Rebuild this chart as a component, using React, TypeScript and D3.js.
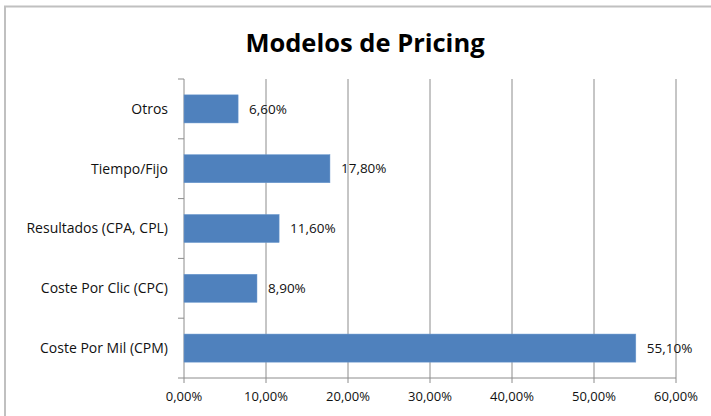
import React from 'react';
import * as d3 from 'd3';

const categories = ['Otros', 'Tiempo/Fijo', 'Resultados (CPA, CPL)', 'Coste Por Clic (CPC)', 'Coste Por Mil (CPM)'];
const values = [6.6, 17.8, 11.6, 8.9, 55.1];
const ticks = [0, 10, 20, 30, 40, 50, 60];
const title = 'Modelos de Pricing';

const width = 711;
const height = 416;
const margin = { top: 79, right: 35, bottom: 38, left: 184 };

const fmt = (v: number) => v.toFixed(2).replace('.', ',') + '%';

const App: React.FC = () => {
  const x = d3.scaleLinear().domain([0, 60]).range([margin.left, width - margin.right]);
  const y = d3.scaleBand<string>()
    .domain(categories)
    .range([margin.top, height - margin.bottom])
    .paddingInner(0.53)
    .paddingOuter(0.265);
  const step = y.step();
  const bottom = height - margin.bottom;
  const font = 'Open Sans, sans-serif';
  const axisColor = '#8c8c8c';

  return (
    <svg width={width} height={height} style={{ position: 'absolute', left: 0, top: 0 }}>
      <rect x={0} y={0} width={width} height={height} fill="#fff" />
      <rect x={5} y={6.5} width={width + 10} height={height + 10} fill="none" stroke="#c0c0c0" strokeWidth={2} />
      <text x={365} y={52} textAnchor="middle" fontFamily={font} fontWeight="bold" fontSize={25.5} fill="#000">
        {title}
      </text>
      {ticks.filter(t => t > 0).map(t => (
        <line key={'g' + t} x1={x(t)} x2={x(t)} y1={margin.top} y2={bottom} stroke={axisColor} />
      ))}
      {ticks.map(t => (
        <g key={'t' + t}>
          <line x1={x(t)} x2={x(t)} y1={bottom} y2={bottom + 5} stroke={axisColor} />
          <text x={x(t)} y={401} textAnchor="middle" fontFamily={font} fontSize={13} fill="#111">{fmt(t)}</text>
        </g>
      ))}
      <line x1={margin.left} x2={width - margin.right} y1={bottom} y2={bottom} stroke={axisColor} />
      <line x1={margin.left} x2={margin.left} y1={margin.top} y2={bottom} stroke={axisColor} />
      {d3.range(categories.length + 1).map(i => (
        <line key={'c' + i} x1={margin.left - 6} x2={margin.left} y1={margin.top + i * step} y2={margin.top + i * step} stroke={axisColor} />
      ))}
      {categories.map((c, i) => {
        const yy = y(c)!;
        const bh = y.bandwidth();
        return (
          <g key={c}>
            <rect x={x(0)} y={yy} width={x(values[i]) - x(0)} height={bh} fill="#4f81bd" stroke="#6f9bd0" strokeWidth={0.5} />
            <text x={margin.left - 16} y={yy + bh / 2} dy="0.35em" textAnchor="end" fontFamily={font} fontSize={14} fill="#111">{c}</text>
            <text x={x(values[i]) + 11} y={yy + bh / 2} dy="0.35em" fontFamily={font} fontSize={13.5} fill="#111">{fmt(values[i])}</text>
          </g>
        );
      })}
    </svg>
  );
};

export default App;
